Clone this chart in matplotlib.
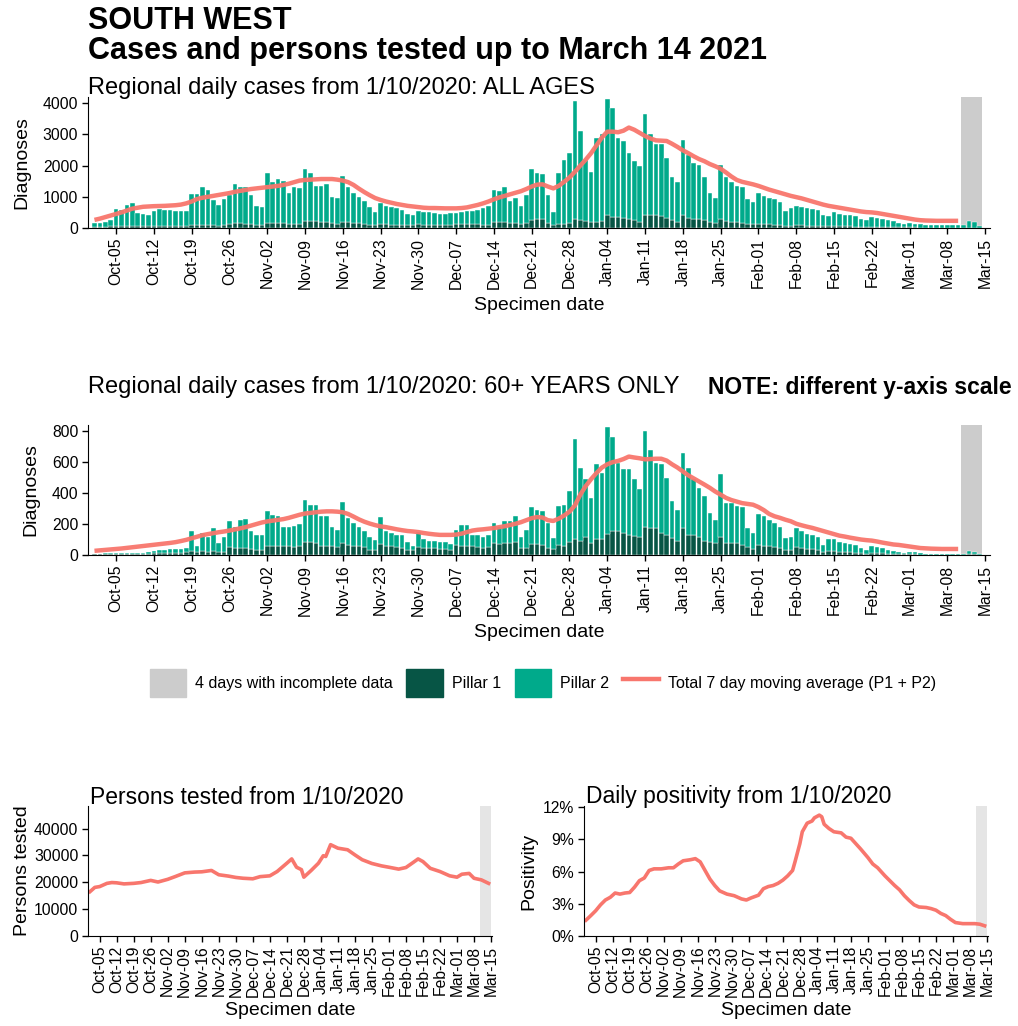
import matplotlib
matplotlib.use('Agg')
import matplotlib.pyplot as plt
import matplotlib.dates as mdates
from matplotlib.patches import Patch
from matplotlib.lines import Line2D
import numpy as np
import pandas as pd

plt.rcParams['font.family'] = ['Liberation Sans', 'DejaVu Sans']

# ---- data ----
days = pd.date_range('2020-10-01', '2021-03-14')
ma_days = pd.date_range('2020-10-01', '2021-03-10')

all_total = [150, 160, 200, 260,
             615, 590, 750, 810, 490, 450, 430,
             540, 620, 590, 590, 560, 560, 540,
             1080, 1100, 1300, 1210, 890, 730, 920,
             1050, 1400, 1330, 1330, 1060, 700, 670,
             1750, 1460, 1570, 1510, 1130, 1300, 1280,
             1890, 1750, 1350, 1350, 1425, 990, 970,
             1670, 1300, 1130, 990, 860, 670, 520,
             810, 700, 670, 650, 590, 450, 430,
             540, 520, 520, 490, 460, 460, 480,
             490, 520, 540, 560, 590, 630, 700,
             1210, 1190, 1300, 860, 950, 700, 1060,
             1900, 1760, 1730, 1060, 520, 1760, 2190,
             2410, 4060, 3110, 2190, 1790, 2900, 3000,
             4140, 3850, 2890, 2790, 2410, 2140, 1980,
             3650, 3000, 2680, 2680, 2250, 1650, 1490,
             2810, 2350, 2080, 2010, 1650, 1110, 950,
             2010, 1620, 1490, 1360, 1330, 930, 840,
             1110, 1040, 950, 930, 840, 550, 630,
             710, 680, 630, 600, 570, 410, 390,
             500, 460, 430, 410, 390, 280, 250,
             360, 320, 280, 250, 220, 160, 140,
             170, 140, 120, 110, 110, 90, 90,
             110, 110, 90, 110, 220, 180, 50]

all_p1 = [40, 40, 45, 50,
          60, 60, 70, 70, 60, 55, 55,
          70, 75, 70, 70, 65, 60, 60,
          110, 110, 110, 100, 90, 80, 90,
          140, 150, 150, 140, 120, 100, 100,
          170, 160, 160, 150, 140, 130, 130,
          240, 230, 210, 200, 180, 150, 140,
          200, 180, 160, 150, 130, 110, 100,
          130, 120, 110, 110, 100, 90, 90,
          120, 110, 110, 100, 100, 90, 90,
          130, 140, 130, 130, 120, 110, 110,
          200, 190, 200, 160, 160, 130, 160,
          250, 300, 300, 150, 90, 140, 140,
          150, 280, 250, 220, 200, 180, 220,
          410, 360, 360, 330, 300, 270, 200,
          430, 410, 410, 390, 330, 250, 200,
          410, 330, 300, 280, 250, 200, 170,
          300, 220, 200, 200, 170, 140, 140,
          140, 120, 120, 110, 100, 80, 80,
          100, 90, 80, 80, 70, 50, 50,
          60, 55, 50, 50, 45, 35, 30,
          40, 35, 30, 30, 25, 20, 20,
          20, 20, 15, 15, 15, 10, 10,
          15, 15, 10, 10, 15, 10, 5]

all_ma = [260, 300, 350, 400, 450, 500, 560, 620, 650, 680,
          690, 700, 705, 710, 720, 730, 750, 790, 850, 930,
          970, 1000, 1030, 1060, 1090, 1120, 1160, 1190, 1220, 1250,
          1270, 1290, 1310, 1330, 1350, 1380, 1420, 1470, 1520, 1540,
          1550, 1560, 1570, 1570, 1570, 1550, 1520, 1470, 1380, 1260,
          1150, 1050, 960, 900, 850, 810, 770, 740, 710, 690,
          670, 650, 640, 640, 635, 630, 630, 630, 640, 660,
          700, 740, 790, 850, 920, 980, 1030, 1080, 1130, 1180,
          1250, 1330, 1390, 1400, 1330, 1270, 1350, 1480, 1620, 1800,
          2000, 2190, 2400, 2650, 2900, 3090, 3090, 3070, 3120, 3220,
          3150, 3050, 2950, 2870, 2810, 2800, 2790, 2700, 2600, 2490,
          2400, 2300, 2210, 2140, 2050, 1980, 1900, 1780, 1650, 1540,
          1480, 1440, 1400, 1350, 1290, 1230, 1180, 1130, 1080, 1030,
          990, 950, 900, 850, 800, 750, 710, 680, 650, 620,
          590, 560, 530, 510, 500, 480, 450, 420, 390, 360,
          330, 300, 270, 250, 240, 235, 230, 230, 230, 230, 230]

old_total = [8, 8, 10, 10,
             10, 11, 11, 12, 15, 15, 18,
             28, 33, 33, 37, 38, 40, 43,
             158, 59, 141, 115, 174, 76, 119,
             217, 184, 228, 232, 152, 130, 130,
             282, 260, 250, 184, 184, 190, 200,
             358, 325, 325, 250, 250, 184, 163,
             340, 239, 206, 180, 152, 119, 98,
             245, 156, 141, 130, 130, 87, 59,
             150, 102, 93, 93, 87, 87, 72,
             163, 195, 195, 130, 130, 119, 130,
             210, 184, 217, 217, 250, 119, 163,
             310, 289, 282, 206, 108, 315, 325,
             412, 749, 564, 488, 369, 586, 532,
             825, 760, 597, 553, 558, 488, 427,
             803, 679, 597, 586, 499, 352, 293,
             662, 564, 488, 434, 380, 271, 228,
             521, 336, 336, 319, 310, 174, 145,
             267, 250, 228, 206, 184, 108, 119,
             174, 158, 137, 130, 115, 65, 102,
             102, 87, 80, 72, 65, 43, 33,
             59, 54, 43, 33, 26, 17, 15,
             22, 17, 11, 8, 7, 7, 6,
             7, 7, 6, 8, 26, 22, 7]

old_p1 = [4, 4, 5, 5,
          5, 6, 6, 6, 8, 8, 9,
          12, 14, 14, 15, 15, 16, 18,
          25, 22, 24, 22, 25, 20, 22,
          50, 45, 45, 43, 40, 35, 35,
          59, 55, 55, 55, 55, 50, 55,
          82, 82, 80, 60, 60, 55, 50,
          76, 65, 60, 55, 50, 35, 35,
          72, 60, 55, 50, 45, 35, 30,
          50, 45, 45, 43, 40, 40, 35,
          65, 55, 55, 55, 50, 45, 50,
          75, 70, 80, 75, 87, 45, 45,
          72, 72, 65, 43, 37, 65, 55,
          87, 102, 93, 115, 80, 102, 102,
          137, 158, 152, 141, 130, 123, 115,
          180, 174, 174, 145, 130, 108, 93,
          174, 130, 130, 115, 93, 87, 76,
          119, 80, 80, 80, 65, 50, 37,
          65, 58, 55, 50, 45, 33, 33,
          50, 43, 40, 37, 33, 22, 25,
          25, 22, 20, 18, 16, 10, 8,
          15, 13, 10, 8, 7, 5, 4,
          6, 5, 3, 2, 2, 2, 2,
          2, 2, 2, 2, 6, 5, 2]

old_ma = [27, 30, 33, 36, 39, 42, 46, 50, 54, 58,
          62, 66, 70, 74, 78, 83, 90, 98, 108, 118,
          128, 135, 141, 147, 152, 158, 165, 172, 180, 190,
          200, 210, 217, 222, 227, 232, 240, 250, 260, 268,
          272, 276, 280, 282, 282, 280, 276, 265, 248, 230,
          215, 203, 193, 185, 180, 173, 166, 160, 155, 152,
          148, 142, 137, 133, 130, 130, 130, 132, 138, 148,
          158, 163, 166, 170, 174, 180, 186, 194, 202, 212,
          225, 238, 245, 242, 225, 220, 235, 255, 280, 320,
          390, 445, 490, 530, 565, 586, 600, 608, 620, 636,
          630, 625, 618, 620, 622, 622, 610, 586, 565, 540,
          515, 495, 475, 455, 434, 410, 390, 369, 355, 345,
          335, 330, 325, 310, 290, 265, 250, 240, 228, 218,
          202, 192, 183, 175, 165, 155, 145, 135, 125, 119,
          112, 106, 100, 96, 93, 87, 80, 74, 68, 65,
          60, 55, 50, 45, 43, 41, 40, 39, 39, 39, 39]

tested_dates = ['2020-10-01', '2020-10-03', '2020-10-05', '2020-10-08', '2020-10-10',
                '2020-10-12', '2020-10-15', '2020-10-19', '2020-10-22', '2020-10-26',
                '2020-10-29', '2020-11-02', '2020-11-05', '2020-11-09', '2020-11-13',
                '2020-11-16', '2020-11-20', '2020-11-23', '2020-11-27', '2020-11-30',
                '2020-12-03', '2020-12-07', '2020-12-10', '2020-12-14', '2020-12-17',
                '2020-12-21', '2020-12-23', '2020-12-25', '2020-12-27', '2020-12-28',
                '2020-12-31', '2021-01-03', '2021-01-05', '2021-01-06', '2021-01-08',
                '2021-01-11', '2021-01-15', '2021-01-18', '2021-01-21', '2021-01-25',
                '2021-01-29', '2021-02-01', '2021-02-05', '2021-02-08', '2021-02-11',
                '2021-02-13', '2021-02-15', '2021-02-18', '2021-02-22', '2021-02-26',
                '2021-03-01', '2021-03-03', '2021-03-06', '2021-03-08', '2021-03-11',
                '2021-03-14']
tested_vals = [16500, 18100, 18400, 19600, 19900,
               19800, 19400, 19600, 19900, 20700,
               20100, 21100, 22100, 23500, 23800,
               23900, 24400, 22800, 22300, 21800,
               21500, 21300, 22100, 22400, 24000,
               27100, 28700, 25600, 24700, 21900,
               24400, 27100, 29900, 29600, 34000,
               32700, 32100, 30200, 28400, 27000,
               26100, 25600, 24900, 25500, 27400,
               28700, 27700, 25200, 24000, 22400,
               21900, 23000, 23300, 21500, 20900,
               19600]

pos_dates = ['2020-10-01', '2020-10-03', '2020-10-05', '2020-10-07', '2020-10-09',
             '2020-10-11', '2020-10-13', '2020-10-15', '2020-10-17', '2020-10-19',
             '2020-10-21', '2020-10-23', '2020-10-25', '2020-10-27', '2020-10-29',
             '2020-11-01', '2020-11-04', '2020-11-06', '2020-11-08', '2020-11-10',
             '2020-11-13', '2020-11-15', '2020-11-17', '2020-11-19', '2020-11-21',
             '2020-11-23', '2020-11-25', '2020-11-28', '2020-12-01', '2020-12-04',
             '2020-12-06', '2020-12-08', '2020-12-11', '2020-12-13', '2020-12-15',
             '2020-12-17', '2020-12-19', '2020-12-21', '2020-12-23', '2020-12-25',
             '2020-12-26', '2020-12-28', '2020-12-29', '2020-12-31', '2021-01-02',
             '2021-01-03', '2021-01-05', '2021-01-06', '2021-01-07', '2021-01-09',
             '2021-01-11', '2021-01-14', '2021-01-16', '2021-01-18', '2021-01-20',
             '2021-01-22', '2021-01-25', '2021-01-27', '2021-01-29', '2021-02-01',
             '2021-02-03', '2021-02-05', '2021-02-07', '2021-02-09', '2021-02-11',
             '2021-02-13', '2021-02-15', '2021-02-18', '2021-02-20', '2021-02-22',
             '2021-02-24', '2021-02-26', '2021-02-28', '2021-03-02', '2021-03-05',
             '2021-03-08', '2021-03-10', '2021-03-12', '2021-03-14']
pos_vals = [1.47, 1.9, 2.35, 2.9, 3.35, 3.6, 4.0, 3.9, 4.0, 4.05,
            4.55, 5.15, 5.4, 6.1, 6.25, 6.25, 6.35, 6.35, 6.7, 7.0,
            7.1, 7.2, 6.9, 6.1, 5.3, 4.7, 4.2, 3.9, 3.75, 3.45,
            3.35, 3.55, 3.8, 4.4, 4.6, 4.7, 4.9, 5.2, 5.6, 6.1,
            6.9, 8.6, 9.7, 10.5, 10.7, 11.0, 11.25, 11.1, 10.4, 10.0,
            9.7, 9.6, 9.2, 9.1, 8.6, 8.1, 7.3, 6.7, 6.35, 5.6,
            5.15, 4.7, 4.3, 3.75, 3.3, 2.9, 2.7, 2.65, 2.55, 2.4,
            2.1, 1.9, 1.55, 1.25, 1.15, 1.15, 1.15, 1.1, 0.95]

# ---- styling ----
P1_COL = '#075545'
P2_COL = '#00AA8B'
LINE_COL = '#F8766D'
W, H = 1018, 1026
start = pd.Timestamp('2020-10-01')
ticks = pd.date_range('2020-10-05', '2021-03-15', freq='7D')


def rect(l, t, r, b):
    return [l / W, 1 - b / H, (r - l) / W, (b - t) / H]


def day(n):
    return start + pd.Timedelta(days=n)


def style(ax, x0, x1, xpad=5):
    ax.set_xlim(day(x0), day(x1))
    ax.set_xticks(ticks)
    ax.xaxis.set_major_formatter(mdates.DateFormatter('%b-%d'))
    ax.tick_params(axis='x', rotation=90, labelsize=11.3, length=4, width=1, pad=3)
    ax.tick_params(axis='y', labelsize=11.3, length=4, width=1, pad=3)
    for s in ['top', 'right']:
        ax.spines[s].set_visible(False)
    ax.set_xlabel('Specimen date', fontsize=14, labelpad=xpad)


def cases(ax, total, p1, ma, ymax, yt):
    total = np.array(total)
    p1 = np.array(p1)
    ax.axvspan(day(160.5), day(164.5), color='#CCCCCC', lw=0, zorder=0)
    ax.bar(days, p1, width=0.85, color=P1_COL, edgecolor='white', linewidth=0.3, zorder=2)
    ax.bar(days, total - p1, bottom=p1, width=0.85, color=P2_COL,
           edgecolor='white', linewidth=0.3, zorder=2)
    ax.plot(ma_days, ma, color=LINE_COL, lw=3.2, alpha=0.95, zorder=3,
            solid_capstyle='butt')
    ax.set_ylim(0, ymax)
    ax.set_yticks(yt)
    style(ax, -1.2, 165.9, xpad=6)
    ax.set_ylabel('Diagnoses', fontsize=14, labelpad=9)


fig = plt.figure(figsize=(W / 100, H / 100), dpi=100)

fig.text(88 / W, 1 - 6 / H, 'SOUTH WEST', fontsize=22, fontweight='bold', va='top')
fig.text(88 / W, 1 - 36 / H, 'Cases and persons tested up to March 14 2021',
         fontsize=22, fontweight='bold', va='top')

ax1 = fig.add_axes(rect(88, 97, 990, 228))
cases(ax1, all_total, all_p1, all_ma, 4200, [0, 1000, 2000, 3000, 4000])
fig.text(88 / W, 1 - 88 / H, 'Regional daily cases from 1/10/2020: ALL AGES',
         fontsize=17, va='center')

ax2 = fig.add_axes(rect(88, 425, 990, 555))
cases(ax2, old_total, old_p1, old_ma, 840, [0, 200, 400, 600, 800])
fig.text(88 / W, 1 - 387 / H, 'Regional daily cases from 1/10/2020: 60+ YEARS ONLY',
         fontsize=17, va='center')
fig.text(708 / W, 1 - 387 / H, 'NOTE: different y-axis scale',
         fontsize=16.5, fontweight='bold', va='center')

handles = [Patch(color='#CCCCCC'), Patch(color=P1_COL), Patch(color=P2_COL),
           Line2D([], [], color=LINE_COL, lw=3.2)]
labels = ['4 days with incomplete data', 'Pillar 1', 'Pillar 2',
          'Total 7 day moving average (P1 + P2)']
fig.legend(handles, labels, loc='center', bbox_to_anchor=(543 / W, 1 - 683 / H),
           ncol=4, frameon=False, fontsize=11.5, handlelength=2.3, handleheight=2.3,
           handletextpad=0.55, columnspacing=0.85)

ax3 = fig.add_axes(rect(88, 806, 492, 936))
ax3.axvspan(day(160.6), day(165), color='#E5E5E5', lw=0, zorder=0)
ax3.plot(pd.to_datetime(tested_dates), tested_vals, color=LINE_COL, lw=2.6)
ax3.set_ylim(0, 48400)
ax3.set_yticks([0, 10000, 20000, 30000, 40000])
style(ax3, -0.8, 165.4, xpad=4)
ax3.set_ylabel('Persons tested', fontsize=14, labelpad=2)
fig.text(90 / W, 1 - 797 / H, 'Persons tested from 1/10/2020', fontsize=16.5, va='center')

ax4 = fig.add_axes(rect(584, 806, 988, 936))
ax4.axvspan(day(160.6), day(165), color='#E5E5E5', lw=0, zorder=0)
ax4.plot(pd.to_datetime(pos_dates), pos_vals, color=LINE_COL, lw=2.6)
ax4.set_ylim(0, 12.1)
ax4.set_yticks([0, 3, 6, 9, 12])
ax4.set_yticklabels(['0%', '3%', '6%', '9%', '12%'])
style(ax4, -0.8, 165.4, xpad=4)
ax4.set_ylabel('Positivity', fontsize=14)
fig.text(586 / W, 1 - 797 / H, 'Daily positivity from 1/10/2020', fontsize=16.5, va='center')

fig.savefig('out.png', dpi=100)
